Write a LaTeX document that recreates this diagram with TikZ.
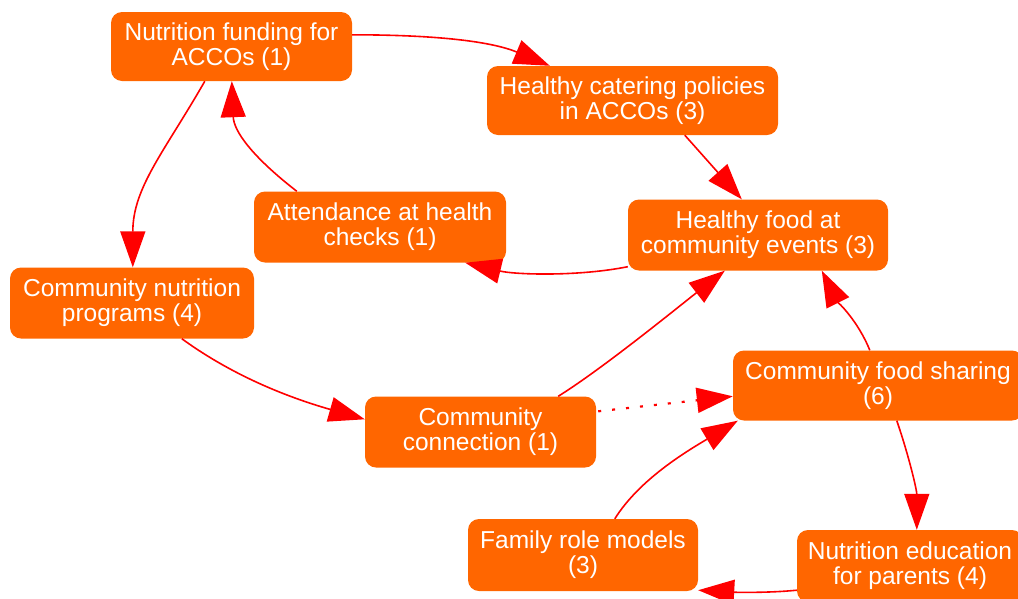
\documentclass[tikz,border=0pt]{standalone}
\usepackage{fontspec}
\setmainfont{Liberation Sans}
\usetikzlibrary{arrows.meta,calc}
\definecolor{boxorange}{HTML}{FF6600}
\definecolor{arrred}{HTML}{FF0000}
\begin{document}
\begin{tikzpicture}[x=1pt,y=-1pt,
  box/.style={fill=boxorange, rounded corners=11pt, text=white, align=center,
    font=\fontsize{24.5}{25}\selectfont, inner sep=0pt, minimum height=71pt},
  link/.style={draw=arrred, line width=1.6pt, -{Triangle[length=36pt,width=25pt]}},
  dotlink/.style={link, dash pattern=on 3pt off 11pt, line width=2.2pt}
]
\useasboundingbox (0,0) rectangle (1018,598);
\clip (0,0) rectangle (1018,598);

\node[box, minimum width=241pt, minimum height=69pt] (fund) at (231.5,46.5) {Nutrition funding for\\ACCOs (1)};
\node[box, minimum width=291pt, minimum height=69pt] (cater) at (632.5,100.5) {Healthy catering policies\\in ACCOs (3)};
\node[box, minimum width=252pt] (attend) at (380,227) {Attendance at health\\checks (1)};
\node[box, minimum width=260pt] (events) at (758,235) {Healthy food at\\community events (3)};
\node[box, minimum width=244pt] (progs) at (132,303) {Community nutrition\\programs (4)};
\node[box, minimum width=290pt, minimum height=70pt] (share) at (878,385.5) {Community food sharing\\(6)};
\node[box, minimum width=231pt] (conn) at (480.5,432) {Community\\connection (1)};
\node[box, minimum width=230pt, minimum height=72pt] (family) at (583,555) {Family role models\\(3)};
\node[box, minimum width=226pt, minimum height=72pt] (educ) at (910,566) {Nutrition education\\for parents (4)};

% connectors
\draw[link] ($(fund.north east)+(0,23)$) .. controls +(80,0) and +(-60,-25) .. ($(cater.north west)+(63,0)$);
\draw[link] ($(fund.south west)+(94,0)$) .. controls +(-40,70) and +(0,-80) .. ($(progs.north west)+(123,0)$);
\draw[link] ($(attend.north west)+(43,0)$) .. controls +(-45,-35) and +(2,50) .. ($(fund.south west)+(121,0)$);
\draw[link] ($(cater.south west)+(198,0)$) -- ($(events.north west)+(114,0)$);
\draw[link] ($(events.south west)+(0,-4)$) .. controls +(-50,10) and +(50,12) .. ($(attend.south east)+(-41,0)$);
\draw[link] ($(progs.south west)+(172,0)$) .. controls +(55,40) and +(-70,-20) .. ($(conn.north west)+(0,23)$);
\draw[link] ($(conn.north east)+(-38,0)$) .. controls +(45,-28) and +(-45,35) .. ($(events.south west)+(97,0)$);
\draw[dotlink] ($(conn.north east)+(2,15)$) -- ($(share.north west)+(0,46)$);
\draw[link] ($(family.north west)+(147,0)$) .. controls +(25,-40) and +(-50,30) .. ($(share.south west)+(5,0)$);
\draw[link] ($(share.north west)+(137,0)$) .. controls +(-12,-30) and +(15,30) .. ($(events.south west)+(194,0)$);
\draw[link] ($(share.south west)+(164,0)$) .. controls +(12,35) and +(0,-40) .. ($(educ.north west)+(120,0)$);
\draw[link] ($(educ.south west)+(0,-12)$) .. controls +(-30,3) and +(35,2) .. ($(family.south east)+(0,-1)$);
\end{tikzpicture}
\end{document}
